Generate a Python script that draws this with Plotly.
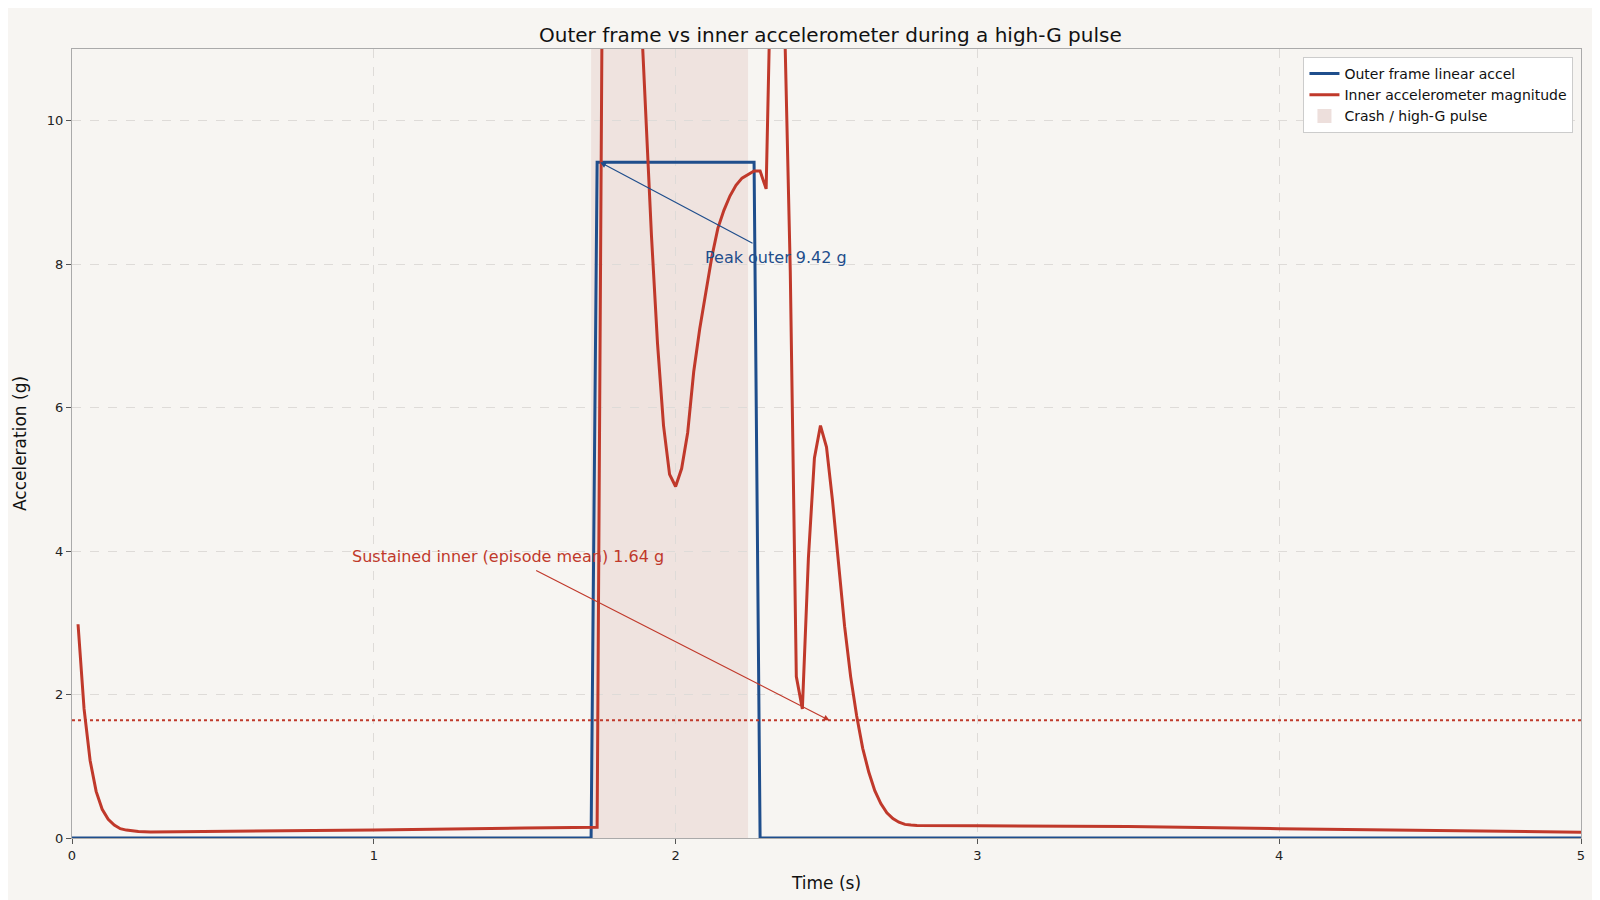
import plotly.graph_objects as go

outer_t = [0.0, 1.72, 1.74, 2.26, 2.28, 5.0]
outer_g = [0.0, 0.0, 9.42, 9.42, 0.0, 0.0]

inner_t = [0.02, 0.04, 0.06, 0.08, 0.10, 0.12, 0.14, 0.16, 0.18, 0.20, 0.22, 0.26, 0.5, 1.0, 1.5, 1.72, 1.74,
           1.76, 1.78, 1.80, 1.82, 1.84, 1.86, 1.88, 1.90, 1.92, 1.94, 1.96, 1.98, 2.00, 2.02, 2.04, 2.06, 2.08,
           2.10, 2.12, 2.14, 2.16, 2.18, 2.20, 2.22, 2.24, 2.26, 2.28, 2.30, 2.32, 2.34, 2.36, 2.38, 2.40, 2.42,
           2.44, 2.46, 2.48, 2.50, 2.52, 2.54, 2.56, 2.58, 2.60, 2.62, 2.64, 2.66, 2.68, 2.70, 2.72, 2.74, 2.76,
           2.78, 2.80, 3.0, 3.5, 4.0, 4.5, 5.0]
inner_g = [2.98, 1.8, 1.08, 0.65, 0.4, 0.26, 0.18, 0.13, 0.11, 0.095, 0.09, 0.085, 0.09, 0.11, 0.14, 0.15, 0.15,
           14.0, 18.0, 20.0, 19.0, 17.0, 14.5, 12.0, 10.2, 8.4, 6.9, 5.75, 5.07, 4.9, 5.15, 5.65, 6.5, 7.1,
           7.6, 8.1, 8.5, 8.75, 8.95, 9.1, 9.2, 9.25, 9.3, 9.3, 9.05, 13.0, 14.0, 11.6, 7.9, 2.25, 1.8,
           3.9, 5.3, 5.75, 5.45, 4.7, 3.8, 2.95, 2.25, 1.7, 1.25, 0.92, 0.66, 0.48, 0.35, 0.27, 0.22, 0.19,
           0.18, 0.175, 0.172, 0.16, 0.13, 0.105, 0.08]

pulse = [1.72, 2.24]
mean_inner = 1.64
peak_outer = 9.42

BLUE = "#1f4e8c"
RED = "#c0392b"

fig = go.Figure()
fig.add_vrect(x0=pulse[0], x1=pulse[1], fillcolor="#eddfdc", opacity=0.85, line_width=0, layer="below")
fig.add_trace(go.Scatter(x=outer_t, y=outer_g, mode="lines", line=dict(color=BLUE, width=3),
                         name="Outer frame linear accel"))
fig.add_trace(go.Scatter(x=inner_t, y=inner_g, mode="lines", line=dict(color=RED, width=3),
                         name="Inner accelerometer magnitude"))
fig.add_trace(go.Scatter(x=[None], y=[None], mode="markers",
                         marker=dict(symbol="square", size=14, color="#eddfdc"),
                         name="Crash / high-G pulse"))
fig.add_hline(y=mean_inner, line=dict(color=RED, width=2, dash="dot"))

fig.add_annotation(x=1.75, y=peak_outer, ax=2.26, ay=8.28, axref="x", ayref="y", xref="x", yref="y",
                   text="", showarrow=True, arrowhead=2, arrowsize=1, arrowwidth=1.2, arrowcolor=BLUE)
fig.add_annotation(x=2.09, y=8.1, xref="x", yref="y", text=f"Peak outer {peak_outer:.2f} g",
                   showarrow=False, xanchor="left", font=dict(color=BLUE, size=16))
fig.add_annotation(x=2.51, y=mean_inner, ax=1.533, ay=3.74, axref="x", ayref="y", xref="x", yref="y",
                   text="", showarrow=True, arrowhead=2, arrowsize=1, arrowwidth=1.2, arrowcolor=RED)
fig.add_annotation(x=0.92, y=3.92, xref="x", yref="y", text=f"Sustained inner (episode mean) {mean_inner:.2f} g",
                   showarrow=False, xanchor="left", font=dict(color=RED, size=16))

axis = dict(showline=True, mirror=True, linecolor="#aaaaaa", gridcolor="#dedbd8", griddash="dash",
            ticks="outside", tickcolor="#555", zeroline=False, tickfont=dict(size=13, color="#222"))
fig.update_layout(
    width=1600, height=900, paper_bgcolor="#f7f5f2", plot_bgcolor="#f7f5f2",
    font=dict(family="DejaVu Sans", color="#111"),
    title=dict(text="Outer frame vs inner accelerometer during a high-G pulse", x=0.514, y=0.978,
               xanchor="center", font=dict(size=20)),
    margin=dict(l=57, r=27, t=41, b=70),
    xaxis=dict(range=[0, 5], dtick=1, title=dict(text="Time (s)", font=dict(size=17)), **axis),
    yaxis=dict(range=[0, 11], dtick=2, title=dict(text="Acceleration (g)", font=dict(size=17)), **axis),
    legend=dict(x=0.995, y=0.99, xanchor="right", yanchor="top", bgcolor="white",
                bordercolor="#cccccc", borderwidth=1, font=dict(size=14)),
    showlegend=True,
)
fig.write_html("out.html")
